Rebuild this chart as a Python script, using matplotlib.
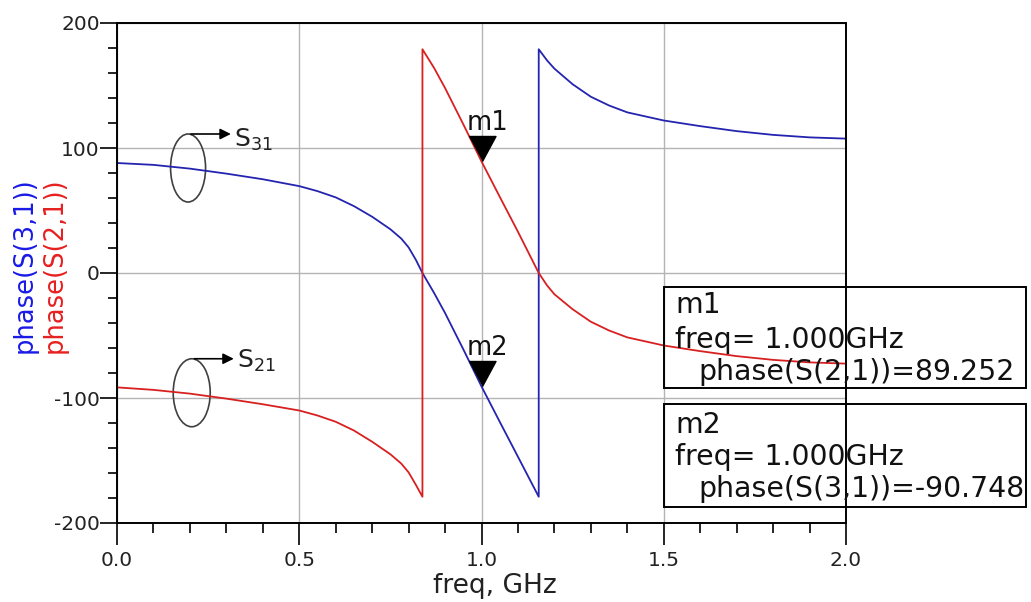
import matplotlib
matplotlib.use("Agg")
import matplotlib.pyplot as plt
from matplotlib.patches import Ellipse, Rectangle
from matplotlib.ticker import MultipleLocator

# phase(S(3,1)) - blue trace (GHz, deg)
freq_s31 = [0.0, 0.1, 0.2, 0.3, 0.4, 0.5, 0.55, 0.6, 0.65, 0.7, 0.75, 0.78, 0.8, 0.82,
            0.838, 0.87, 0.9, 0.95, 1.0, 1.05, 1.1, 1.157, 1.157, 1.18, 1.2, 1.25,
            1.3, 1.35, 1.4, 1.5, 1.6, 1.7, 1.8, 1.9, 2.0]
phase_s31 = [88.0, 86.5, 83.5, 79.5, 75.0, 69.5, 65.5, 60.5, 53.5, 45.0, 35.0, 27.5, 20.5, 10.5,
             0.0, -16.0, -32.0, -61.0, -90.748, -119.0, -147.0, -179.0, 179.0, 170.0, 163.5, 151.0,
             141.0, 134.0, 128.5, 122.0, 117.5, 113.5, 110.5, 108.5, 107.5]

# phase(S(2,1)) - red trace
freq_s21 = [0.0, 0.1, 0.2, 0.3, 0.4, 0.5, 0.55, 0.6, 0.65, 0.7, 0.75, 0.78, 0.8, 0.82,
            0.838, 0.838, 0.87, 0.9, 0.95, 1.0, 1.05, 1.1, 1.157, 1.18, 1.2, 1.25,
            1.3, 1.35, 1.4, 1.5, 1.6, 1.7, 1.8, 1.9, 2.0]
phase_s21 = [-91.5, -93.5, -96.5, -100.5, -105.0, -110.0, -114.0, -119.0, -126.0, -135.0, -145.0, -152.5, -159.5, -169.5,
             -179.0, 179.0, 164.0, 148.0, 119.0, 89.252, 61.0, 33.0, 0.0, -10.0, -17.0, -29.0,
             -39.0, -46.0, -51.5, -58.0, -62.5, -66.5, -69.5, -71.5, -72.5]

# markers
m1 = (1.0, 89.252)
m2 = (1.0, -90.748)

blue = '#2424b0'
red = '#d82020'

plt.rcParams['font.family'] = ['DejaVu Sans']
plt.rcParams['axes.unicode_minus'] = False
plt.rcParams['mathtext.default'] = 'regular'

W, H = 1031, 602
fig = plt.figure(figsize=(W / 100, H / 100), dpi=100)
ax = fig.add_axes([117 / W, 1 - 523 / H, 729 / W, 500 / H])

ax.plot(freq_s31, phase_s31, color=blue, lw=1.3)
ax.plot(freq_s21, phase_s21, color=red, lw=1.3)

ax.set_xlim(0, 2)
ax.set_ylim(-200, 200)
ax.xaxis.set_major_locator(MultipleLocator(0.5))
ax.xaxis.set_minor_locator(MultipleLocator(0.1))
ax.yaxis.set_major_locator(MultipleLocator(100))
ax.yaxis.set_minor_locator(MultipleLocator(20))
ax.set_xticks([0, 0.5, 1.0, 1.5, 2.0])
ax.set_xticklabels(['0.0', '0.5', '1.0', '1.5', '2.0'])
ax.grid(True, which='major', color='#b4b4b4', lw=1.0)
ax.set_axisbelow(True)
for s in ax.spines.values():
    s.set_linewidth(1.4)
ax.tick_params(axis='x', which='major', direction='out', length=15.5, width=1.2, labelsize=14.5, pad=5)
ax.tick_params(axis='x', which='minor', direction='out', length=7, width=1.2)
ax.tick_params(axis='y', which='major', direction='out', length=12.5, width=1.2, labelsize=14.5, pad=0)
ax.tick_params(axis='y', which='minor', direction='out', length=6.5, width=1.2)
for t in ax.get_xticklabels() + ax.get_yticklabels():
    t.set_color('#222222')

ax.set_xlabel('freq, GHz', fontsize=19, color='#222222')
ax.xaxis.set_label_coords((495 - 117) / 729, -0.1)

fig.text(25 / W, 1 - 265 / H, 'phase(S(3,1))', color='#1a1ae6', fontsize=18.5,
         rotation=90, ha='center', va='center')
fig.text(55 / W, 1 - 265 / H, 'phase(S(2,1))', color='#e62020', fontsize=18.5,
         rotation=90, ha='center', va='center')

# trace group ellipses with arrows
ax.add_patch(Ellipse((0.195, 84.0), 0.096, 54.4, fill=False, ec='#404040', lw=1.2))
ax.annotate('', xy=(0.32, 111.2), xytext=(0.195, 111.2),
            arrowprops=dict(arrowstyle='-|>', color='black', lw=1.2, mutation_scale=16))
ax.text(0.322, 101, r'S$_{31}$', fontsize=18, ha='left', va='baseline', color='#222222')

ax.add_patch(Ellipse((0.205, -95.8), 0.1015, 54.4, fill=False, ec='#404040', lw=1.2))
ax.annotate('', xy=(0.328, -68.6), xytext=(0.205, -68.6),
            arrowprops=dict(arrowstyle='-|>', color='black', lw=1.2, mutation_scale=16))
ax.text(0.33, -76, r'S$_{21}$', fontsize=18, ha='left', va='baseline', color='#222222')

# marker triangles, tip on the data point
tri = [(-0.54, 1.0), (0.54, 1.0), (0.0, 0.0)]
for (mx, my), name in [(m1, 'm1'), (m2, 'm2')]:
    ax.plot([mx], [my], marker=tri, markersize=36, color='black', lw=0)
    ax.annotate(name, xy=(mx, my), xytext=(4, 22.6), textcoords='offset points',
                fontsize=18.5, ha='center', va='baseline', color='#111111')

# marker readout boxes
boxes = [
    (287, 388, 'm1', 'freq= 1.000GHz', 'phase(S(2,1))=89.252', (313, 348, 380)),
    (404, 507, 'm2', 'freq= 1.000GHz', 'phase(S(3,1))=-90.748', (433, 465, 497)),
]
for top, bot, l1, l2, l3, (b1, b2, b3) in boxes:
    fig.patches.append(Rectangle((664 / W, 1 - bot / H), 362 / W, (bot - top) / H,
                                 transform=fig.transFigure, fill=False, ec='black', lw=1.4))
    fig.text(675 / W, 1 - b1 / H, l1, fontsize=20.4, va='baseline', color='#111111')
    fig.text(675 / W, 1 - b2 / H, l2, fontsize=20.4, va='baseline', color='#111111')
    fig.text(698 / W, 1 - b3 / H, l3, fontsize=20.4, va='baseline', color='#111111')

fig.savefig('out.png', dpi=100)
